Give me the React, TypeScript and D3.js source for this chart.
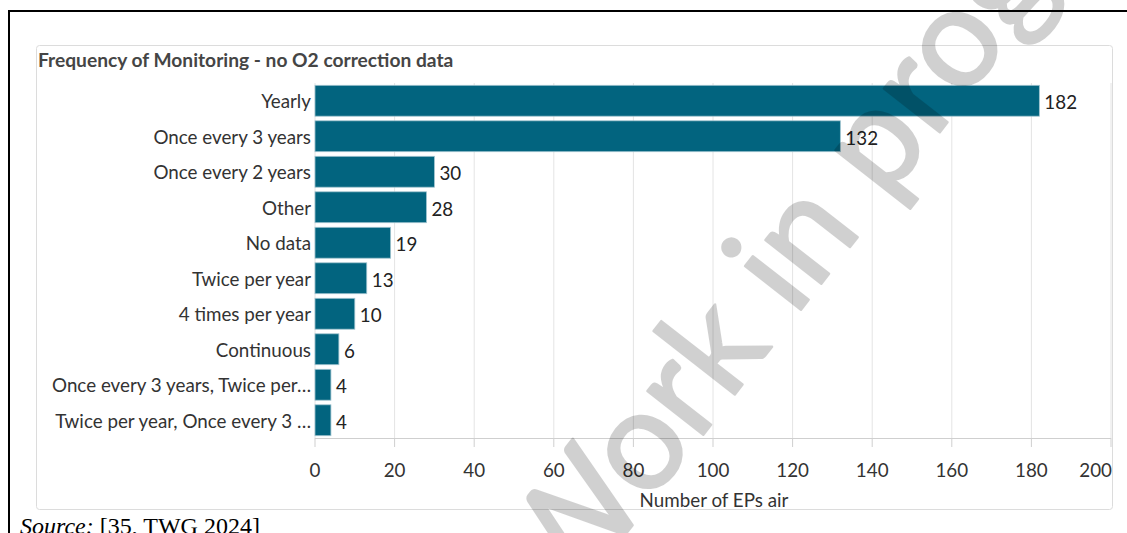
import React from "react";
import * as d3 from "d3";

const categories = [
  "Yearly",
  "Once every 3 years",
  "Once every 2 years",
  "Other",
  "No data",
  "Twice per year",
  "4 times per year",
  "Continuous",
  "Once every 3 years, Twice per…",
  "Twice per year, Once every 3 …",
];
const values = [182, 132, 30, 28, 19, 13, 10, 6, 4, 4];
const xTicks = [0, 20, 40, 60, 80, 100, 120, 140, 160, 180, 200];
const title = "Frequency of Monitoring - no O2 correction data";
const xTitle = "Number of EPs air";
const watermark = "Work in progress";

const W = 1127;
const H = 533;
const FONT = "Lato, 'Open Sans', sans-serif";
const FS = 18.8;

export default function App() {
  const x = d3.scaleLinear().domain([0, 200]).range([315, 1111]);
  const y = d3
    .scaleBand<string>()
    .domain(categories)
    .range([83, 438])
    .paddingInner(0.13)
    .paddingOuter(0.065);
  const axisY = 438;

  return (
    <svg
      width={W}
      height={H}
      style={{ position: "absolute", left: 0, top: 0, background: "#fff" }}
    >
      {/* page frame */}
      <line x1={8} y1={11} x2={W} y2={11} stroke="#000" strokeWidth={2} />
      <line x1={9} y1={10} x2={9} y2={H} stroke="#000" strokeWidth={2} />

      {/* panel */}
      <rect
        x={36.5}
        y={45.5}
        width={1076}
        height={464}
        rx={3}
        fill="#fff"
        stroke="#dcdcdc"
        strokeWidth={1}
      />
      <text
        x={38}
        y={66.5}
        fontFamily={FONT}
        fontSize={19.2}
        fontWeight={700}
        fill="#454545"
      >
        {title}
      </text>

      {/* gridlines */}
      {xTicks.map((t) => (
        <line
          key={"g" + t}
          x1={x(t)}
          x2={x(t)}
          y1={83}
          y2={axisY}
          stroke="#e4e4e4"
          strokeWidth={1}
        />
      ))}
      {/* axis */}
      <line x1={x(0)} x2={x(200)} y1={axisY + 0.5} y2={axisY + 0.5} stroke="#cfcfcf" strokeWidth={1} />
      {xTicks.map((t, i) => {
        const last = i === xTicks.length - 1;
        return (
          <g key={"t" + t}>
            <line x1={x(t)} x2={x(t)} y1={axisY} y2={axisY + 9} stroke="#cfcfcf" strokeWidth={1} />
            <text
              x={last ? x(t) + 1 : x(t)}
              y={469}
              textAnchor={last ? "end" : "middle"}
              dominantBaseline="central"
              fontFamily={FONT}
              fontSize={FS}
              fill="#333"
            >
              {t}
            </text>
          </g>
        );
      })}
      <text
        x={714}
        y={499}
        textAnchor="middle"
        dominantBaseline="central"
        fontFamily={FONT}
        fontSize={FS}
        fill="#333"
      >
        {xTitle}
      </text>

      {/* bars */}
      {categories.map((c, i) => (
        <g key={c}>
          <rect
            x={x(0)}
            y={y(c)!}
            width={x(values[i]) - x(0)}
            height={y.bandwidth()}
            fill="#02647f"
            stroke="#9fc3cf"
            strokeWidth={0.8}
          />
          <text
            x={311}
            y={y(c)! + y.bandwidth() / 2}
            textAnchor="end"
            dominantBaseline="central"
            fontFamily={FONT}
            fontSize={FS}
            fill="#333"
          >
            {c}
          </text>
          <text
            x={x(values[i]) + 5}
            y={y(c)! + y.bandwidth() / 2 + 1}
            dominantBaseline="central"
            fontFamily={FONT}
            fontSize={FS}
            fill="#222"
          >
            {values[i]}
          </text>
        </g>
      ))}

      {/* source */}
      <text x={20} y={534} fontFamily="'Liberation Serif', 'Times New Roman', serif" fontSize={24} fill="#000">
        <tspan fontStyle="italic">Source:</tspan>
        <tspan> [35, TWG 2024]</tspan>
      </text>

      {/* watermark */}
      <g opacity={0.18}>
        <text
          x={564}
          y={613}
          transform="rotate(-52 564 613)"
          fontFamily={FONT}
          fontSize={140}
          fontWeight={400}
          fill="#000"
          stroke="#000"
          strokeWidth={2.5}
          strokeLinejoin="round"
        >
          {watermark}
        </text>
      </g>
    </svg>
  );
}
